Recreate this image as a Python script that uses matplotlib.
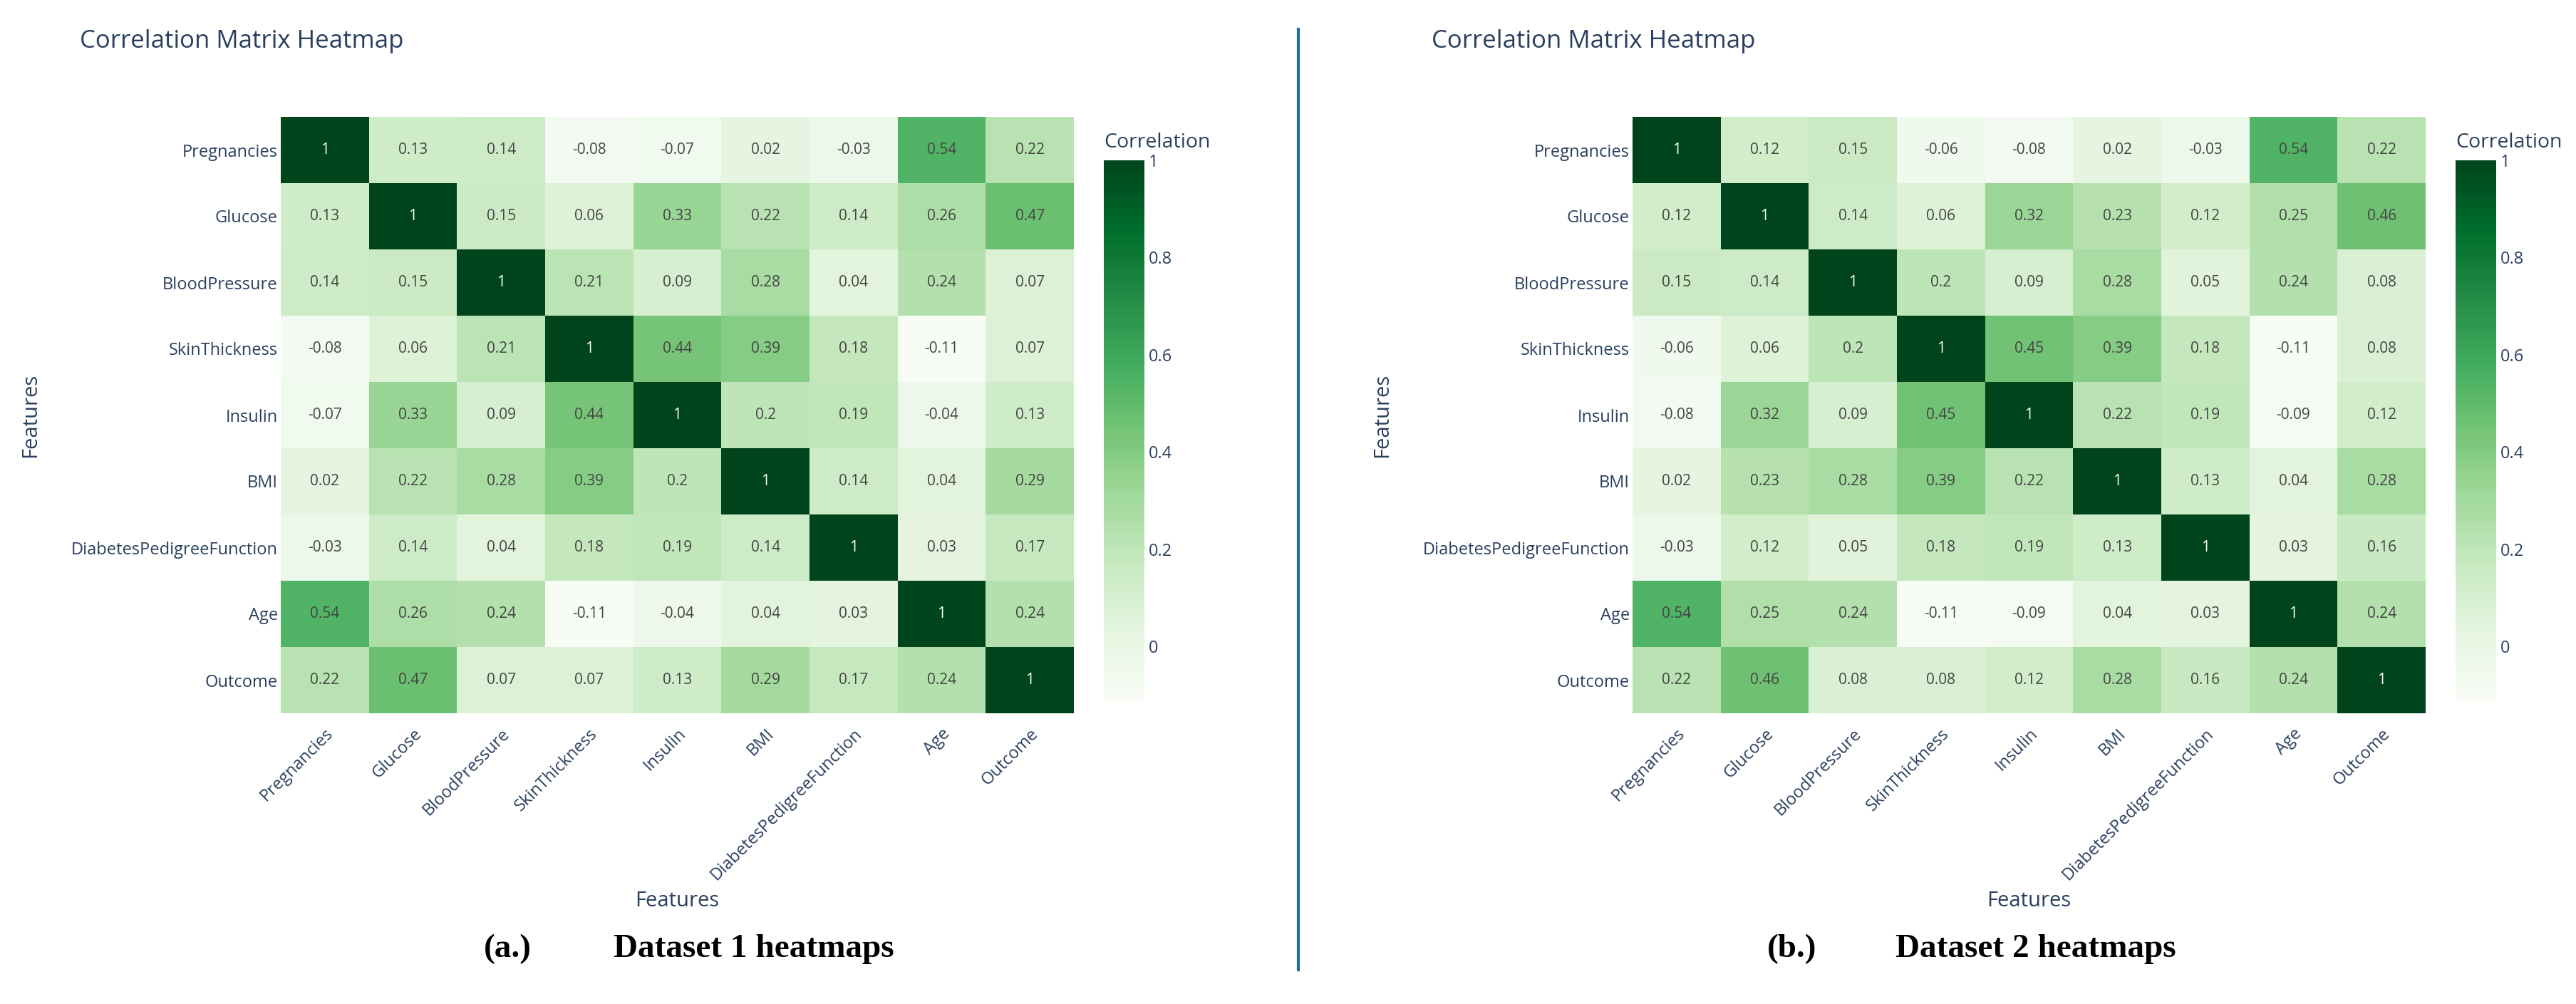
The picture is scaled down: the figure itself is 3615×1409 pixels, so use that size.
import matplotlib.pyplot as plt
import numpy as np

features = ['Pregnancies', 'Glucose', 'BloodPressure', 'SkinThickness', 'Insulin',
            'BMI', 'DiabetesPedigreeFunction', 'Age', 'Outcome']

# dataset 1 correlation matrix
corr_d1 = [
    [1, 0.13, 0.14, -0.08, -0.07, 0.02, -0.03, 0.54, 0.22],
    [0.13, 1, 0.15, 0.06, 0.33, 0.22, 0.14, 0.26, 0.47],
    [0.14, 0.15, 1, 0.21, 0.09, 0.28, 0.04, 0.24, 0.07],
    [-0.08, 0.06, 0.21, 1, 0.44, 0.39, 0.18, -0.11, 0.07],
    [-0.07, 0.33, 0.09, 0.44, 1, 0.2, 0.19, -0.04, 0.13],
    [0.02, 0.22, 0.28, 0.39, 0.2, 1, 0.14, 0.04, 0.29],
    [-0.03, 0.14, 0.04, 0.18, 0.19, 0.14, 1, 0.03, 0.17],
    [0.54, 0.26, 0.24, -0.11, -0.04, 0.04, 0.03, 1, 0.24],
    [0.22, 0.47, 0.07, 0.07, 0.13, 0.29, 0.17, 0.24, 1],
]

# dataset 2 correlation matrix (right heatmap)
corr_d2 = [
    [1, 0.12, 0.15, -0.06, -0.08, 0.02, -0.03, 0.54, 0.22],
    [0.12, 1, 0.14, 0.06, 0.32, 0.23, 0.12, 0.25, 0.46],
    [0.15, 0.14, 1, 0.2, 0.09, 0.28, 0.05, 0.24, 0.08],
    [-0.06, 0.06, 0.2, 1, 0.45, 0.39, 0.18, -0.11, 0.08],
    [-0.08, 0.32, 0.09, 0.45, 1, 0.22, 0.19, -0.09, 0.12],
    [0.02, 0.23, 0.28, 0.39, 0.22, 1, 0.13, 0.04, 0.28],
    [-0.03, 0.12, 0.05, 0.18, 0.19, 0.13, 1, 0.03, 0.16],
    [0.54, 0.25, 0.24, -0.11, -0.09, 0.04, 0.03, 1, 0.24],
    [0.22, 0.46, 0.08, 0.08, 0.12, 0.28, 0.16, 0.24, 1],
]

cbar_ticks = [0, 0.2, 0.4, 0.6, 0.8, 1]
captions = [('(a.)', 'Dataset 1 heatmaps'), ('(b.)', 'Dataset 2 heatmaps')]

W, H = 3616, 1409
DPI = 100
TXT = '#2a3f5f'
plt.rcParams['font.family'] = ['Open Sans', 'DejaVu Sans']

fig = plt.figure(figsize=(W / DPI, H / DPI), dpi=DPI)


def fx(px):
    return px / W


def fy(py):
    return 1 - py / H


def draw_panel(data, x0, cap, cap_x):
    data = np.array(data, dtype=float)
    vmin, vmax = data.min(), data.max()
    ax = fig.add_axes([fx(394 + x0), fy(1001), fx(1113), 837 / H])
    im = ax.imshow(data, cmap='Greens', vmin=vmin, vmax=vmax, aspect='auto',
                   interpolation='nearest')
    n = len(features)
    for i in range(n):
        for j in range(n):
            v = data[i, j]
            col = 'white' if (v - vmin) / (vmax - vmin) > 0.8 else '#444444'
            ax.text(j, i, f'{v:g}', ha='center', va='center', fontsize=15, color=col)
    ax.set_xticks(range(n))
    ax.set_yticks(range(n))
    ax.set_xticklabels(features, rotation=45, ha='right', rotation_mode='anchor',
                       fontsize=17, color=TXT)
    ax.set_yticklabels(features, fontsize=17, color=TXT)
    ax.tick_params(axis='x', length=0, pad=12)
    ax.tick_params(axis='y', length=0, pad=3)
    for s in ax.spines.values():
        s.set_visible(False)

    cax = fig.add_axes([fx(1549 + x0), fy(982), fx(57), 757 / H])
    cb = fig.colorbar(im, cax=cax, ticks=cbar_ticks)
    cb.outline.set_visible(False)
    cb.ax.set_yticklabels([f'{t:g}' for t in cbar_ticks])
    cb.ax.tick_params(length=0, pad=4, labelsize=17, labelcolor=TXT)
    cax.text(0, 1.033, 'Correlation', transform=cax.transAxes, ha='left',
             va='center', fontsize=20.5, color=TXT)

    fig.text(fx(112 + x0), fy(58), 'Correlation Matrix Heatmap', ha='left',
             va='center', fontsize=25, color=TXT)
    fig.text(fx(950 + x0), fy(1265), 'Features', ha='center', va='center',
             fontsize=21, color=TXT)
    fig.text(fx(43 + x0), fy(583), 'Features', ha='center', va='center',
             rotation=90, fontsize=21, color=TXT)

    fig.text(fx(cap_x[0]), fy(1332), cap[0], ha='center', va='center',
             fontsize=34, fontweight='bold', family='Liberation Serif', color='black')
    fig.text(fx(cap_x[1]), fy(1332), cap[1], ha='left', va='center',
             fontsize=34, fontweight='bold', family='Liberation Serif', color='black')


draw_panel(corr_d1, 0, captions[0], (712, 861))
draw_panel(corr_d2, 1897, captions[1], (2515, 2660))

# divider between the two panels
fig.add_artist(plt.Line2D([fx(1822), fx(1822)], [fy(41), fy(1361)],
                          color='#1f6aa0', linewidth=3))

fig.savefig('out.png', dpi=DPI)
